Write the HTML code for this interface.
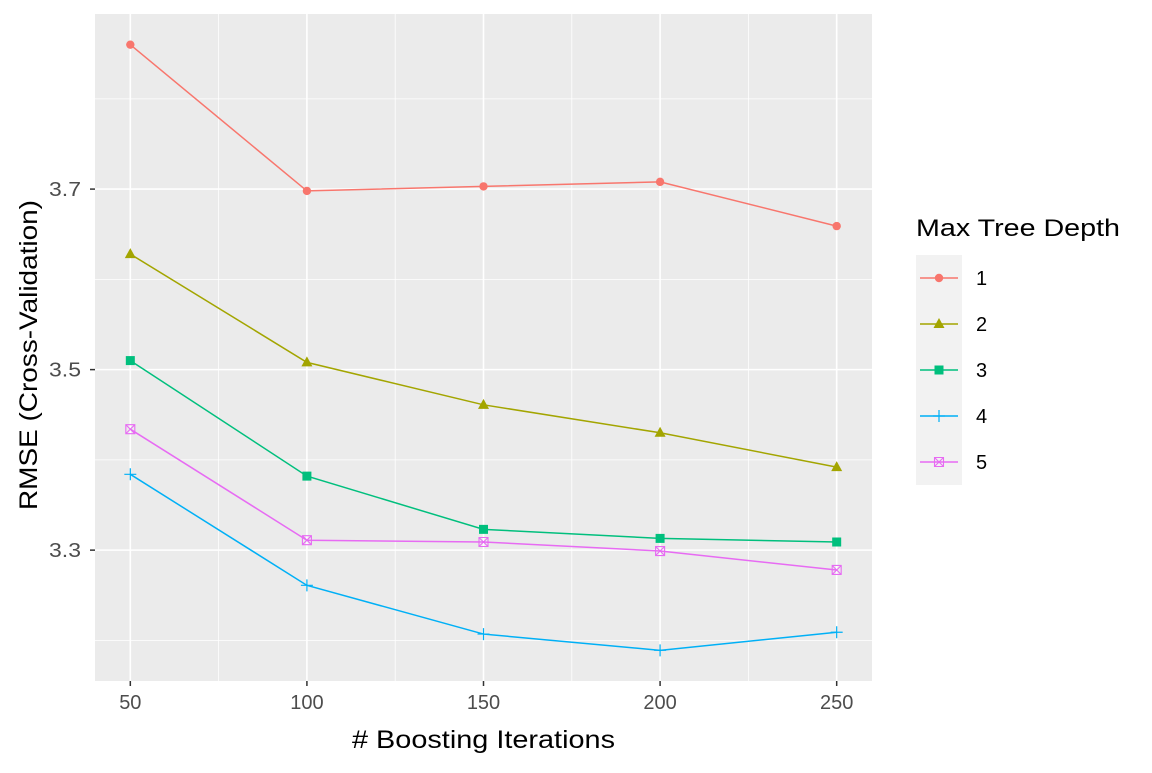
<!DOCTYPE html>
<html><head><meta charset="utf-8"><style>
body{margin:0;background:#fff}
svg{font-family:"Liberation Sans",Arial,sans-serif}
</style></head><body>
<svg id="chart" width="1152" height="768" xmlns="http://www.w3.org/2000/svg">
<rect x="0" y="0" width="1152" height="768" fill="#fff"/>
<rect x="95" y="14" width="777" height="667" fill="#EBEBEB"/>
<g id="grid"></g>
<g id="series"></g>
<g id="axes"></g>
<text x="352" y="748" font-size="25" textLength="263" lengthAdjust="spacingAndGlyphs" fill="#000"># Boosting Iterations</text>
<text transform="translate(37,510) rotate(-90)" font-size="25" textLength="310" lengthAdjust="spacingAndGlyphs" fill="#000">RMSE (Cross-Validation)</text>
<g id="legend"></g>
</svg>
<script>
const iterations=[50,100,150,200,250];
const depths=["1","2","3","4","5"];
const depth1=[3.860,3.698,3.703,3.708,3.659];
const depth2=[3.628,3.508,3.461,3.430,3.392];
const depth3=[3.510,3.382,3.323,3.313,3.309];
const depth4=[3.384,3.261,3.207,3.189,3.209];
const depth5=[3.434,3.311,3.309,3.299,3.278];
const xTicks=[50,100,150,200,250];
const yTicks=[3.3,3.5,3.7];
const yMinor=[3.2,3.4,3.6,3.8];
const xMinor=[75,125,175,225];
const colors=["#F8766D","#A3A500","#00BF7D","#00B0F6","#E76BF3"];
const series=[depth1,depth2,depth3,depth4,depth5];
const NS="http://www.w3.org/2000/svg";
const X0=95,X1=872,Y0=681,Y1=14;
const xmin=40,xmax=260,ymin=3.155,ymax=3.894;
const xs=v=>X0+(v-xmin)/(xmax-xmin)*(X1-X0);
const ys=v=>Y0-(v-ymin)/(ymax-ymin)*(Y0-Y1);
function mk(tag,attrs,parent){const e=document.createElementNS(NS,tag);for(const k in attrs)e.setAttribute(k,attrs[k]);parent.appendChild(e);return e;}
const grid=document.getElementById('grid'),axes=document.getElementById('axes'),sg=document.getElementById('series'),lg=document.getElementById('legend');
yMinor.forEach(v=>{const l=mk('line',{x1:X0,x2:X1,y1:ys(v),y2:ys(v),stroke:'#fff','stroke-width':0.8},grid);

});
xMinor.forEach(v=>{const l=mk('line',{x1:xs(v),x2:xs(v),y1:Y1,y2:Y0,stroke:'#fff','stroke-width':0.8},grid);

});
yTicks.forEach(v=>{const l=mk('line',{x1:X0,x2:X1,y1:ys(v),y2:ys(v),stroke:'#fff','stroke-width':1.6},grid);


const t=mk('line',{x1:X0-5,x2:X0,y1:ys(v),y2:ys(v),stroke:'#333','stroke-width':1.5},axes);


const tx=mk('text',{x:49,y:ys(v)+7,'font-size':20,textLength:32,lengthAdjust:'spacingAndGlyphs',fill:'#4D4D4D'},axes);tx.textContent=v.toFixed(1);

});
xTicks.forEach(v=>{const l=mk('line',{x1:xs(v),x2:xs(v),y1:Y1,y2:Y0,stroke:'#fff','stroke-width':1.6},grid);


const t=mk('line',{x1:xs(v),x2:xs(v),y1:Y0,y2:Y0+5,stroke:'#333','stroke-width':1.5},axes);


const tx=mk('text',{x:xs(v),y:Y0+28,'font-size':20,'text-anchor':'middle',fill:'#4D4D4D'},axes);tx.textContent=v;

});
function marker(i,cx,cy,parent){const c=colors[i];let e;
if(i===0)e=mk('circle',{cx,cy,r:4.2,fill:c},parent);
else if(i===1)e=mk('polygon',{points:`${cx},${cy-6} ${cx-5.5},${cy+4} ${cx+5.5},${cy+4}`,fill:c},parent);
else if(i===2)e=mk('rect',{x:cx-4.5,y:cy-4.5,width:9,height:9,fill:c},parent);
else if(i===3){e=mk('path',{d:`M${cx-6},${cy}H${cx+6}M${cx},${cy-6}V${cy+6}`,stroke:c,'stroke-width':1.2,fill:'none'},parent);}
else e=mk('path',{d:`M${cx-4.5},${cy-4.5}h9v9h-9zM${cx-4.5},${cy-4.5}L${cx+4.5},${cy+4.5}M${cx+4.5},${cy-4.5}L${cx-4.5},${cy+4.5}`,stroke:c,'stroke-width':1.1,fill:'none'},parent);
return e;}
series.forEach((s,i)=>{const g=mk('g',{},sg);


const pl=mk('polyline',{points:s.map((v,j)=>xs(iterations[j])+','+ys(v)).join(' '),fill:'none',stroke:colors[i],'stroke-width':1.5},g);


s.forEach((v,j)=>{const m=marker(i,xs(iterations[j]),ys(v),g);

});});
const lt=mk('text',{x:916,y:236,'font-size':24,textLength:204,lengthAdjust:'spacingAndGlyphs',fill:'#000'},lg);lt.textContent='Max Tree Depth';


mk('rect',{x:916,y:255,width:46,height:230,fill:'#F2F2F2'},lg);
depths.forEach((d,i)=>{const cy=278+i*46;const g=mk('g',{},lg);


mk('line',{x1:920,x2:958,y1:cy,y2:cy,stroke:colors[i],'stroke-width':1.5},g);
marker(i,939,cy,g);
const t=mk('text',{x:976,y:cy+7,'font-size':20,fill:'#000'},g);t.textContent=d;});
</script>
</body></html>
